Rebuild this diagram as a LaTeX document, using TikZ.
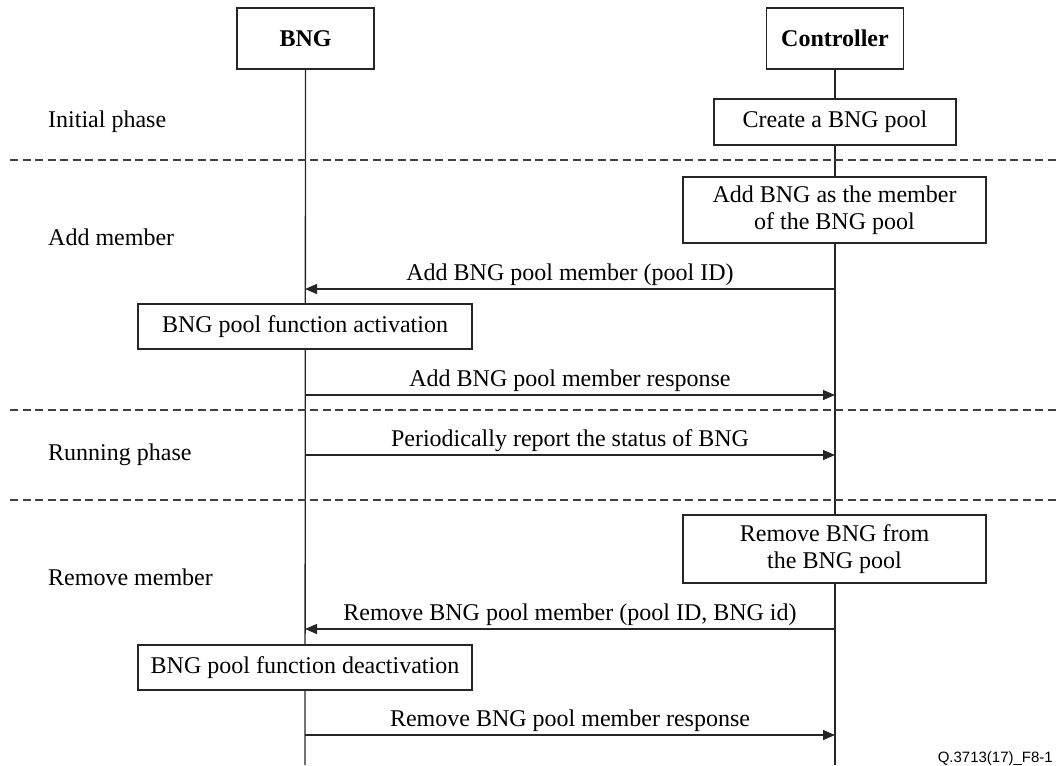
\documentclass[tikz,border=0pt]{standalone}
\usepackage{fontspec}
\setmainfont{Liberation Serif}
\newfontfamily\figsans{Liberation Sans}
\usetikzlibrary{arrows.meta}

\begin{document}
\begin{tikzpicture}[x=1pt,y=-1pt,
  every node/.style={font=\fontsize{24}{27}\selectfont},
  line/.style={line width=1.3pt,draw=black!85},
  entity/.style={line,fill=white,inner sep=0pt,minimum width=137pt,minimum height=61pt,font=\fontsize{24}{27}\selectfont\bfseries},
  actbox/.style={line,fill=white,inner sep=0pt,align=center},
  msg/.style={line,-{Triangle[length=12pt,width=10pt]}},
  phase/.style={dash pattern=on 8pt off 4.5pt,line width=1.2pt,draw=black!75},
  msglabel/.style={anchor=base,inner sep=0pt},
  phaselabel/.style={anchor=west,inner sep=0pt}]
\useasboundingbox (0,0) rectangle (1056,765);

% lifeline ends at the bottom edge
\coordinate (bngend) at (305,765);
\coordinate (ctrlend) at (835,765);

% participants
\node[entity] (bng) at (305.5,38.5) {BNG};
\node[entity] (ctrl) at (835,38.5) {Controller};

% lifelines
\draw[line] (bng.south) -- (bngend);
\draw[line] (ctrl.south) -- (ctrlend);

% phase separators
\coordinate (d1a) at (10,160);  \coordinate (d1b) at (1056,160);
\coordinate (d2a) at (10,410);  \coordinate (d2b) at (1056,410);
\coordinate (d3a) at (10,500);  \coordinate (d3b) at (1056,500);
\draw[phase] (d1a) -- (d1b);
\draw[phase] (d2a) -- (d2b);
\draw[phase] (d3a) -- (d3b);

% phase names
\node[phaselabel] (p1) at (48,122) {Initial phase};
\node[phaselabel] (p2) at (48,237) {Add member};
\node[phaselabel] (p3) at (48,455) {Running phase};
\node[phaselabel] (p4) at (48,577) {Remove member};

% local actions
\node[actbox,minimum width=242pt,minimum height=46pt] (create) at (835,122) {Create a BNG pool};
\node[actbox,minimum width=303pt,minimum height=66pt] (addm) at (834.5,210) {Add BNG as the member\\of the BNG pool};
\node[actbox,minimum width=334pt,minimum height=45pt] (act) at (305,326.5) {BNG pool function activation};
\node[actbox,minimum width=303pt,minimum height=68pt] (remm) at (834.5,549) {Remove BNG from\\the BNG pool};
\node[actbox,minimum width=334pt,minimum height=45pt] (deact) at (305,667.5) {BNG pool function deactivation};

% message end points on the lifelines
\coordinate (c1) at (835,289); \coordinate (b1) at (305,289);
\coordinate (b2) at (305,395); \coordinate (c2) at (835,395);
\coordinate (b3) at (305,455); \coordinate (c3) at (835,455);
\coordinate (c4) at (835,629); \coordinate (b4) at (305,629);
\coordinate (b5) at (305,735); \coordinate (c5) at (835,735);

% messages
\draw[msg] (c1) -- (b1) node[msglabel,pos=0.5,yshift=9pt] (m1) {Add BNG pool member (pool ID)};
\draw[msg] (b2) -- (c2) node[msglabel,pos=0.5,yshift=9pt] (m2) {Add BNG pool member response};
\draw[msg] (b3) -- (c3) node[msglabel,pos=0.5,yshift=9pt] (m3) {Periodically report the status of BNG};
\draw[msg] (c4) -- (b4) node[msglabel,pos=0.5,yshift=9pt] (m4) {Remove BNG pool member (pool ID, BNG id)};
\draw[msg] (b5) -- (c5) node[msglabel,pos=0.5,yshift=9pt] (m5) {Remove BNG pool member response};

% figure number
\node[anchor=base east,inner sep=0pt,font=\figsans\fontsize{15}{18}\selectfont] (fig) at (1053,762) {Q.3713(17)\_F8-1};
\end{tikzpicture}
\end{document}
